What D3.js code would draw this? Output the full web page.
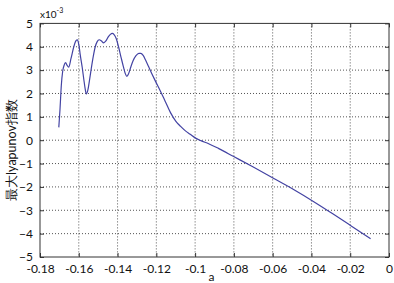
<!DOCTYPE html>
<html>
<head>
<meta charset="utf-8">
<script src="https://cdn.jsdelivr.net/npm/d3@7"></script>
<style>
body { margin: 0; background: #fff; }
text { font-family: Lato, "Open Sans", sans-serif; fill: #111; }
</style>
</head>
<body>
<div id="canvas"></div>
<script>
"use strict"

let svgWidth = 394
let svgHeight = 283
let plot = {left: 40, right: 389, top: 23.4, bottom: 257}

/* values, y in units of 1e-3 */
let aValues = [
    -0.1703, -0.1697, -0.1690, -0.1683, -0.1676, -0.1668, -0.1660, -0.1652,
    -0.1640, -0.1626, -0.1615, -0.1607, -0.1600, -0.1592, -0.1582, -0.1574,
    -0.1567, -0.1561, -0.1553, -0.1545, -0.1535, -0.1525, -0.1515, -0.1505,
    -0.1495, -0.1483, -0.1472, -0.1460, -0.1448, -0.1437, -0.1427, -0.1418,
    -0.1407, -0.1395, -0.1382, -0.1370, -0.1360, -0.1352, -0.1343, -0.1333,
    -0.1320, -0.1305, -0.1290, -0.1280, -0.1268, -0.1255, -0.1240, -0.1225,
    -0.1206, -0.1180, -0.1154, -0.1127, -0.1100, -0.1076, -0.1050, -0.1025,
    -0.1000, -0.0970, -0.0930, -0.0880, -0.0801, -0.0700, -0.0594, -0.0490,
    -0.0388, -0.0290, -0.0193, -0.0095
]
let lyapValues = [
    0.55, 1.3, 2.35, 2.95, 3.2, 3.32, 3.2, 3.13,
    3.5, 3.99, 4.25, 4.3, 4.1, 3.63, 3.1, 2.6,
    2.2, 1.98, 2.15, 2.55, 3.1, 3.6, 4.0, 4.22,
    4.3, 4.25, 4.17, 4.25, 4.42, 4.53, 4.57, 4.52,
    4.35, 4.0, 3.55, 3.15, 2.85, 2.73, 2.85, 3.1,
    3.4, 3.62, 3.72, 3.72, 3.63, 3.42, 3.15, 2.88,
    2.55, 2.12, 1.66, 1.18, 0.82, 0.6, 0.4, 0.25,
    0.1, -0.02, -0.15, -0.35, -0.7, -1.15, -1.64, -2.12,
    -2.63, -3.15, -3.68, -4.22
]

let xTicks = [-0.18, -0.16, -0.14, -0.12, -0.1, -0.08, -0.06, -0.04, -0.02, 0]
let xTickLabels = ["-0.18", "-0.16", "-0.14", "-0.12", "-0.1", "-0.08", "-0.06", "-0.04", "-0.02", "0"]
let yTicks = [-5, -4, -3, -2, -1, 0, 1, 2, 3, 4, 5]

let svg = d3.select("#canvas")
    .append("svg")
    .attr("width", svgWidth)
    .attr("height", svgHeight)
    .style("background", "#fff")

let xScale = d3.scaleLinear()
    .domain([-0.18, 0])
    .range([plot.left, plot.right])

let yScale = d3.scaleLinear()
    .domain([-5, 5])
    .range([plot.bottom, plot.top])

/* dotted grid */
svg.append("g")
    .selectAll("line")
    .data(xTicks.slice(1, -1))
    .join("line")
    .attr("x1", d => xScale(d))
    .attr("x2", d => xScale(d))
    .attr("y1", plot.top)
    .attr("y2", plot.bottom)
    .attr("stroke", "#555")
    .attr("stroke-dasharray", "1,2")

svg.append("g")
    .selectAll("line")
    .data(yTicks.slice(1, -1))
    .join("line")
    .attr("x1", plot.left)
    .attr("x2", plot.right)
    .attr("y1", d => yScale(d))
    .attr("y2", d => yScale(d))
    .attr("stroke", "#555")
    .attr("stroke-dasharray", "1,2")

/* axes, ticks point inward like matlab */
svg.append("g")
    .attr("transform", "translate(0," + plot.bottom + ")")
    .call(d3.axisBottom(xScale).tickValues(xTicks).tickSize(-4).tickSizeOuter(0)
        .tickPadding(7).tickFormat((d, i) => xTickLabels[i]))

svg.append("g")
    .attr("transform", "translate(" + plot.left + ",0)")
    .call(d3.axisLeft(yScale).tickValues(yTicks).tickSize(-4).tickSizeOuter(0)
        .tickPadding(7).tickFormat(d3.format("d")))

svg.append("g")
    .attr("transform", "translate(0," + plot.top + ")")
    .call(d3.axisTop(xScale).tickValues(xTicks).tickSize(-4).tickSizeOuter(0).tickFormat(""))

svg.append("g")
    .attr("transform", "translate(" + plot.right + ",0)")
    .call(d3.axisRight(yScale).tickValues(yTicks).tickSize(-4).tickSizeOuter(0).tickFormat(""))

svg.selectAll(".domain").remove()
svg.selectAll(".tick line").attr("stroke", "#333")
svg.selectAll(".tick text")
    .attr("font-family", "Lato, 'Open Sans', sans-serif")
    .attr("font-size", 12)
    .attr("fill", "#111")

/* box */
svg.append("rect")
    .attr("x", plot.left)
    .attr("y", plot.top)
    .attr("width", plot.right - plot.left)
    .attr("height", plot.bottom - plot.top)
    .attr("fill", "none")
    .attr("stroke", "#333")

/* the curve */
let points = aValues.map((a, i) => [a, lyapValues[i]])

let line = d3.line()
    .x(d => xScale(d[0]))
    .y(d => yScale(d[1]))
    .curve(d3.curveMonotoneX)

svg.append("path")
    .datum(points)
    .attr("d", line)
    .attr("fill", "none")
    .attr("stroke", "#4343a3")
    .attr("stroke-width", 1.2)

/* exponent label */
let expo = svg.append("text")
    .attr("x", plot.left)
    .attr("y", 18)
    .attr("font-size", 10)
    .text("x10")
expo.append("tspan")
    .attr("dy", -5)
    .attr("font-size", 7)
    .text("-3")

/* axis labels */
svg.append("text")
    .attr("x", (plot.left + plot.right) / 2 - 3)
    .attr("y", 281)
    .attr("text-anchor", "middle")
    .attr("font-size", 12)
    .text("a")

svg.append("text")
    .attr("transform", "translate(16,150) rotate(-90)")
    .attr("text-anchor", "middle")
    .attr("font-family", "'Noto Sans CJK SC', sans-serif")
    .attr("font-size", 12.5)
    .text("最大lyapunov指数")
</script>
</body>
</html>
